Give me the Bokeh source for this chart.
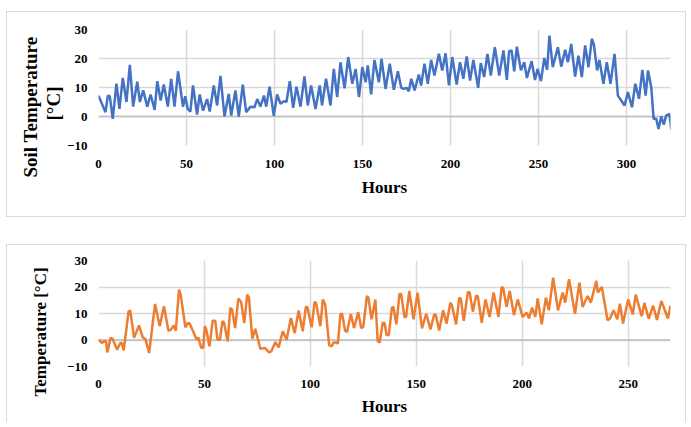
from bokeh.plotting import figure
from bokeh.models import FixedTicker, Range1d, Span, Title
from bokeh.layouts import column
from bokeh.embed import file_html
from bokeh.resources import INLINE

# ---- data: top panel (soil temperature) ----
soil_hours = [0, 4, 5.3, 6.4, 8.1, 10.2, 11.9, 13.8, 15.9, 17.8, 19.7, 22, 23.5, 25.4, 27.7, 29.6,
              31.9, 33.4, 35.3, 37.1, 39.4, 41.3, 43.2, 45.2, 48, 49.3, 50.7, 52.2, 53.7, 56, 57.5,
              59.4, 61.7, 63.2, 65.5, 67.4, 69.3, 71.6, 74, 75.4, 77.8, 79.7, 82, 83.9, 86.4, 88.6,
              90.2, 92, 94, 95.3, 97.2, 99.6, 101.5, 103.4, 105.3, 106.8, 108.7, 110.6, 112.5,
              114.8, 117, 118.9, 120.8, 123.3, 125.7, 127, 129.3, 131.8, 133.7, 135.6, 137.5,
              139.8, 141.9, 144.2, 146.1, 148, 149.9, 151.8, 153, 154.9, 156.8, 159.3, 160.8,
              163.1, 165.5, 167.8, 170.1, 172, 173.5, 175, 176.3, 177.7, 179.6, 182, 183.3, 185.2,
              187.1, 189, 190.9, 193.4, 195.3, 197.2, 199.1, 201, 203.5, 205.4, 207.3, 209.2,
              211.1, 213, 215.7, 217.2, 219.1, 221, 222.9, 225.2, 227.7, 230.1, 232, 233.3, 234.7,
              236.2, 237.7, 240, 241.9, 243.4, 246.1, 248, 249.5, 251.4, 253.3, 254.9, 256.2,
              258.1, 261, 262.9, 265.2, 266.7, 268.6, 270.8, 272.7, 274.6, 276.5, 278.4, 280.3,
              281.4, 283.3, 284.6, 286.9, 288.8, 290.9, 293.2, 295.1, 297, 298.9, 300.8, 303.1,
              305, 307.1, 309, 310.9, 312.2, 314.1, 315.4, 316.9, 318.2, 319.7, 321.2, 322.5,
              324.4, 325.5]
soil_temp = [7.2, 1.5, 7.2, 7, -0.8, 11.3, 2.6, 13.3, 5, 17.8, 3.4, 12, 5, 9, 3.4, 7.6,
             2.3, 12.2, 5.5, 11, 3.4, 13, 3.4, 15.6, 3.4, 7, 2.6, 1.7, 10.7, 0.7, 7.6,
             2, 6, 1.7, 10.7, 3.8, 14, 0, 7.8, 0.3, 9, 0, 11, 1.5, 3.4, 3.2,
             6, 3.4, 7.2, 3.4, 10.3, 0.2, 7.6, 4.4, 5.3, 5, 12.2, 3, 10.3,
             3.4, 13.8, 3.8, 10.7, 2.6, 10.7, 3.8, 13, 3.8, 16.4, 6.7, 18.7,
             9.7, 20.5, 11.3, 16.4, 6.7, 17, 11.8, 17.6, 7.6, 19.5, 11.8, 19.9,
             9.5, 18.2, 9.2, 15.6, 9.9, 9.5, 9.9, 8.7, 13, 9, 14.5, 10.7, 18.2,
             11.3, 19.5, 14.1, 21.6, 15.9, 21.8, 10.7, 20.5, 11, 18.7, 13, 20.7,
             12.4, 19.5, 9.9, 18.4, 13.6, 21.6, 14.1, 23.9, 14.1, 22.8, 12.6, 22.5, 22.8,
             15.6, 24.1, 15.9, 18.7, 13.3, 19.1, 12.6, 16.4, 12.2, 20.2, 16.1, 27.9,
             17, 23.9, 17.2, 23, 18.7, 25, 13.8, 21, 13.6, 24.5, 17, 26.8,
             25, 15.9, 19.5, 11.3, 18.7, 11.3, 21.6, 7.2, 5.5, 3.8, 8.4, 3.2,
             11.3, 6.1, 16.1, 7.2, 15.9, 10, -0.8, -0.8, -4.3, 0, -2.8, 0.3,
             0.9, -4.6]

# ---- data: bottom panel (air temperature) ----
air_hours = [0, 1.6, 2.7, 3.5, 4.2, 5.7, 6.6, 8.8, 10.3, 11, 11.9, 14.2, 15, 16.8, 19.1, 20.9,
             22.1, 23.9, 26.7, 28.9, 30.9, 33, 34.2, 35.5, 36.5, 38, 38.8, 41, 42.1, 43, 46.4,
             47.1, 48.4, 49.4, 50.2, 50.9, 52.4, 53.9, 55.1, 56.2, 57.3, 58.5, 59.2, 61, 62.2,
             63, 64.5, 66, 67.3, 68.8, 70.2, 71, 72.6, 74, 76.4, 78.5, 80.5, 81.5, 83.5, 85, 87,
             88.8, 90.8, 92.6, 94.5, 96.4, 97.9, 98.6, 100.6, 102, 102.7, 104.7, 105.9, 107,
             108.9, 110, 111, 112.3, 113, 114.2, 115, 116.4, 117.3, 119.1, 120.6, 122.6, 124,
             125, 126.7, 127.4, 128.9, 130.7, 131.8, 132.7, 134.2, 135, 136, 137, 138.5, 139.2,
             140.6, 142.1, 142.9, 144.4, 145.2, 146.7, 148.7, 150.6, 152.7, 154.7, 156.7, 158.5,
             159.2, 160.8, 162.7, 164.3, 166.1, 166.8, 168.8, 170.3, 171.1, 172.4, 174.4, 175.2,
             176.7, 178.2, 179, 180.9, 182.7, 184.6, 186.5, 188.8, 190.3, 191, 192.6, 194.1,
             196.1, 197.9, 200.2, 202.1, 203.2, 204.7, 206.2, 207.3, 209.2, 211.2, 212.6, 214.6,
             216.9, 219.1, 220.3, 222.1, 224.9, 227, 228.5, 230.9, 232.4, 235, 235.7, 237.6,
             240.3, 241.5, 243.1, 244.9, 246.1, 247.6, 250, 252.2, 253.6, 256.4, 257.7, 259.7,
             261.8, 263.6, 265.7, 268.8, 270]
air_temp = [0.1, -1.1, -0.5, -0.5, -4.7, 0.8, 0.5, -3.7, -1.1, -1.1, -3.9, 10.8, 11.1, 0.8, 5.5, 1,
            0.4, -4.9, 13.6, 5.2, 12.7, 3.5, 3.9, 5.5, 3.5, 19, 17.1, 4.8, 6.4, 6.2, 0.1,
            1, -2.8, -3, 5.2, 3.9, -2.4, 7.3, 7.3, 0.1, 0.1, 7.1, 6.7, -0.5, 12.1,
            11.5, 4.5, 15.6, 14.4, 6.4, 17.1, 16.1, 0.5, 4.2, -3.3, -3, -4.7, -4.3, -0.8, -2.8, 3.3,
            0.1, 8.3, 2.6, 11.1, 3.3, 12.6, 12.4, 4.8, 14.4, 14, 5.2, 15.3, 13.4,
            -2, -2.4, -0.9, -0.9, -1.4, 9.8, 9.8, 3.5, 3, 9.8, 4.5, 10.5, 4.5,
            5, 16.6, 16, 7.8, 15.3, -0.4, -1, 6.5, 6.5, 1.9, 1.8, 12.2, 12.5,
            5.9, 17.5, 17.2, 8.7, 8.7, 18.5, 7.8, 17.9, 4.4, 9.9, 4, 9.7,
            9.4, 3.6, 11.2, 6.2, 14.1, 13.2, 5.9, 16, 15.3, 7.2, 18.2, 17.9,
            10.7, 16.6, 16.6, 6.5, 15.3, 8.7, 17.9, 8.7, 20, 19.7, 12.5, 18.5,
            9.4, 15.3, 8.7, 10.3, 8.2, 12.2, 8.7, 15.7, 5.9, 16, 11.2, 23.5,
            11.2, 17.9, 14.1, 22.9, 9.9, 21.6, 12.5, 16.6, 14.1, 22.3, 17.9, 20,
            7.4, 8.2, 11.2, 7.8, 13.7, 6.2, 15.3, 9.7, 17.1, 9, 14, 8,
            13, 7.6, 14.7, 8.1, 13]

y_ticks = [-10, 0, 10, 20, 30]
soil_x_ticks = [0, 50, 100, 150, 200, 250, 300]
air_x_ticks = [0, 50, 100, 150, 200, 250]

FONT = "Liberation Serif"
GRID = "#d9d9d9"
BORDER = "1px solid #d9d9d9"


def style(p, xticks):
    p.xaxis.ticker = FixedTicker(ticks=xticks)
    p.yaxis.ticker = FixedTicker(ticks=y_ticks)
    for ax in (p.xaxis, p.yaxis):
        ax.axis_line_color = None
        ax.major_tick_line_color = None
        ax.minor_tick_line_color = None
        ax.major_tick_out = 0
        ax.major_tick_in = 0
        ax.minor_tick_out = 0
        ax.major_label_text_font = FONT
        ax.major_label_text_font_style = "bold"
        ax.major_label_text_font_size = "13px"
        ax.major_label_text_color = "#000000"
        ax.axis_label_text_font = FONT
        ax.axis_label_text_font_style = "bold"
        ax.axis_label_text_color = "#000000"
    p.xaxis.axis_label = "Hours"
    p.xaxis.axis_label_text_font_size = "17px"
    p.xgrid.grid_line_color = GRID
    p.ygrid.grid_line_color = GRID
    p.xgrid.grid_line_width = 1.5
    p.ygrid.grid_line_width = 1.5
    p.outline_line_color = None
    p.add_layout(Span(location=0, dimension="width", line_color="#bdbdbd",
                      line_width=1.5, level="underlay"))


def side_title(p, text, size, offset, standoff):
    # align="left" on a left-side title starts the text at the frame bottom,
    # shifted by `offset` pixels upward
    p.add_layout(Title(text=text, align="left", offset=offset, standoff=standoff,
                       text_font=FONT, text_font_style="bold", text_font_size=size,
                       text_color="#000000"), "left")


# top panel
p1 = figure(width=680, height=206, output_backend="svg", toolbar_location=None,
            x_range=Range1d(0, 325), y_range=Range1d(-10, 30),
            min_border_left=91, min_border_right=17, min_border_top=17, min_border_bottom=73)
style(p1, soil_x_ticks)
p1.xaxis.major_label_standoff = 14
p1.yaxis.major_label_standoff = 11
p1.xaxis.axis_label_standoff = 7
p1.line(soil_hours, soil_temp, line_color="#4472C4", line_width=2.5)
side_title(p1, "[°C]", "19px", 25, 2)
side_title(p1, "Soil Temperature", "19px", -32, -3)
p1.margin = (11, 0, 0, 6)
p1.styles = {"border": BORDER}

# bottom panel
p2 = figure(width=680, height=178, output_backend="svg", toolbar_location=None,
            x_range=Range1d(0, 270), y_range=Range1d(-10, 30),
            min_border_left=71, min_border_right=15, min_border_top=15, min_border_bottom=57)
style(p2, air_x_ticks)
p2.xaxis.major_label_standoff = 13
p2.yaxis.major_label_standoff = 11
p2.xaxis.axis_label_standoff = 6
p2.line(air_hours, air_temp, line_color="#ED7D31", line_width=2.5)
side_title(p2, "Temperature [°C]", "17px", -30, 30)
p2.margin = (27, 0, 0, 6)
p2.styles = {"border-top": BORDER, "border-left": BORDER, "border-right": BORDER}

layout = column(p1, p2, spacing=0)
open("out.html", "w").write(file_html(layout, INLINE))
